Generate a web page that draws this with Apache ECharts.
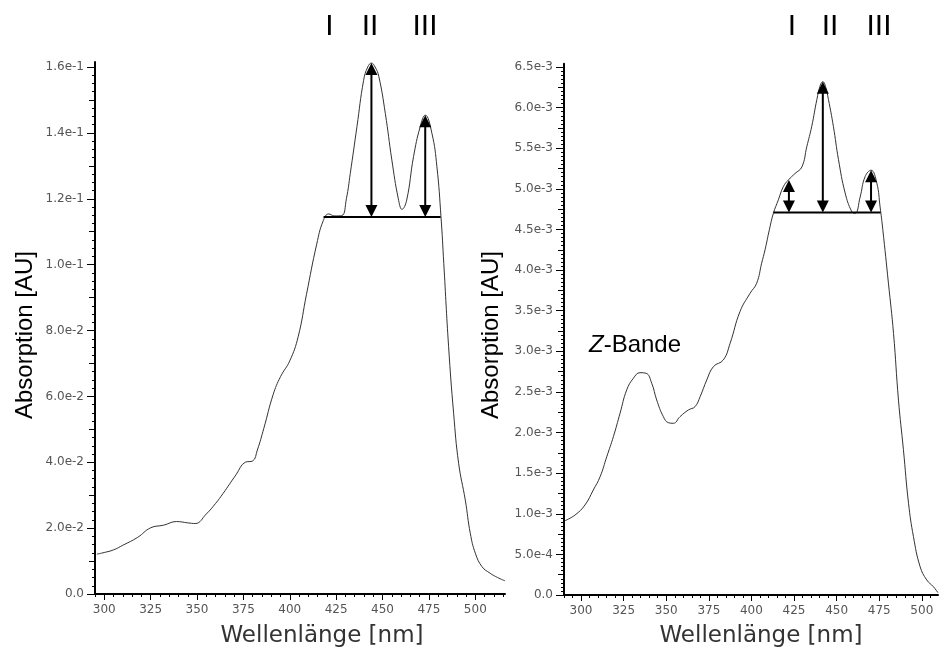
<!DOCTYPE html>
<html>
<head>
<meta charset="utf-8">
<script src="https://cdn.jsdelivr.net/npm/echarts@6/dist/echarts.min.js"></script>
<style>
  html, body { margin: 0; padding: 0; background: #ffffff; }
  #chart { width: 940px; height: 653px; }
</style>
</head>
<body>
<div id="chart"></div>
<script>
// Left spectrum: wavelength [nm] and absorption [AU]
const leftWavelength = [296, 300, 305, 310, 318, 325, 332, 339, 345, 349, 355, 360, 364, 371, 376, 380,
  382.5, 386, 391, 395, 400, 404.5, 409, 414.5, 418, 421, 424, 428, 430.5, 432.6, 436.2, 439.8, 442,
  444, 446, 448, 451.5, 455, 458.5, 460.5, 463, 466.7, 470.3, 473, 476.6, 479.3, 481.5, 483, 485.6,
  488.3, 491, 494.6, 497.3, 500, 503.6, 508, 512, 516];
const leftAbsorption = [0.0121, 0.0126, 0.0134, 0.0148, 0.0172, 0.0201, 0.0209, 0.0220, 0.0216, 0.0214,
  0.0243, 0.0275, 0.0305, 0.0362, 0.0400, 0.0404, 0.0437, 0.0503, 0.0605, 0.0660, 0.0708, 0.0781,
  0.0910, 0.1062, 0.1133, 0.1154, 0.1148, 0.1149, 0.1200, 0.1277, 0.1419, 0.1560, 0.1600, 0.1612,
  0.1600, 0.1571, 0.1459, 0.1318, 0.1200, 0.1168, 0.1196, 0.1328, 0.1419, 0.1454, 0.1399, 0.1297,
  0.1145, 0.1004, 0.0751, 0.0549, 0.0397, 0.0285, 0.0184, 0.0124, 0.0083, 0.0063, 0.0050, 0.0040];

// Right spectrum: wavelength [nm] and absorption [AU]
const rightWavelength = [290.6, 296.5, 302.3, 307.2, 311.2, 315.1, 319, 322.9, 326.8, 330.7, 334.6, 338.2,
  341.5, 344.4, 348.3, 351.2, 354.2, 358.1, 363, 366.9, 369.9, 373.8, 377.7, 383.5, 387.5, 393.3, 399.2,
  403.1, 406, 408, 410.5, 412.9, 415.8, 418.8, 421.7, 425.6, 429.6, 432.5, 435.4, 438.4, 440.5, 441.9,
  443.5, 445.2, 448.1, 451.1, 455, 458.9, 460.9, 463.8, 466.7, 470.2, 473.6, 475.5, 477.1, 480.4, 483.4,
  486.3, 489.2, 492.2, 495.1, 499, 502.9, 506.8, 509.4];
const rightAbsorption = [0.915e-3, 0.985e-3, 1.108e-3, 1.293e-3, 1.457e-3, 1.703e-3, 1.95e-3, 2.238e-3,
  2.525e-3, 2.668e-3, 2.737e-3, 2.730e-3, 2.607e-3, 2.401e-3, 2.196e-3, 2.122e-3, 2.114e-3, 2.196e-3,
  2.278e-3, 2.319e-3, 2.442e-3, 2.648e-3, 2.812e-3, 2.894e-3, 3.10e-3, 3.49e-3, 3.715e-3, 3.839e-3,
  4.085e-3, 4.25e-3, 4.495e-3, 4.70e-3, 4.865e-3, 5.03e-3, 5.11e-3, 5.19e-3, 5.27e-3, 5.52e-3, 5.77e-3,
  6.10e-3, 6.28e-3, 6.32e-3, 6.26e-3, 6.10e-3, 5.77e-3, 5.36e-3, 4.95e-3, 4.72e-3, 4.70e-3, 4.90e-3,
  5.15e-3, 5.23e-3, 5.07e-3, 4.78e-3, 4.50e-3, 3.84e-3, 3.22e-3, 2.40e-3, 1.79e-3, 1.13e-3, 0.718e-3,
  0.349e-3, 0.185e-3, 0.102e-3, 0.03e-3];

// Band heights: [wavelength, band maximum, baseline]
const leftBands = [[444, 0.1612, 0.1145], [473, 0.1454, 0.1145]];
const rightBands = [[422, 5.11e-3, 4.708e-3], [441.9, 6.32e-3, 4.708e-3], [470.2, 5.23e-3, 4.708e-3]];
// Baselines: [start wavelength, end wavelength, absorption]
const leftBaseline = [418.2, 481.3, 0.1145];
const rightBaseline = [412.9, 475.8, 4.708e-3];

// Tick labels
const xTickLabels = [300, 325, 350, 375, 400, 425, 450, 475, 500];
const leftYTickLabels = [0, 0.02, 0.04, 0.06, 0.08, 0.10, 0.12, 0.14, 0.16];
const rightYTickLabels = [0, 0.5e-3, 1.0e-3, 1.5e-3, 2.0e-3, 2.5e-3, 3.0e-3, 3.5e-3, 4.0e-3, 4.5e-3,
  5.0e-3, 5.5e-3, 6.0e-3, 6.5e-3];
const bandNames = ['I', 'II', 'III'];

function steps(start, stop, step) {
  const out = [];
  const n = Math.round((stop - start) / step);
  for (let i = 0; i <= n; i++) out.push(Math.round((start + i * step) * 1e9) / 1e9);
  return out;
}
function zip(xs, ys) { return xs.map((x, i) => [x, ys[i]]); }

const tickFont = { color: '#555', fontFamily: 'DejaVu Sans', fontSize: 12 };
const sciFormat = v => (Math.abs(v) < 1e-12 ? '0.0' : v.toExponential(1));

function makeXAxes(grid, min, max) {
  const base = { type: 'value', gridIndex: grid, min: min, max: max, position: 'bottom',
    splitLine: { show: false } };
  return [
    Object.assign({}, base, {
      axisLine: { show: true, onZero: false, lineStyle: { color: '#000', width: 2 } },
      axisTick: { show: true, customValues: steps(Math.ceil(min / 5) * 5, Math.floor(max / 5) * 5, 5),
        length: 3, lineStyle: { color: '#000', width: 1 } },
      axisLabel: Object.assign({ customValues: xTickLabels, margin: 10 }, tickFont)
    }),
    Object.assign({}, base, {
      axisLine: { show: false },
      axisTick: { show: true, customValues: xTickLabels, length: 6, lineStyle: { color: '#000', width: 1 } },
      axisLabel: { show: false }
    })
  ];
}

function makeYAxes(grid, max, labels, mid, small) {
  const base = { type: 'value', gridIndex: grid, min: 0, max: max, position: 'left',
    splitLine: { show: false } };
  return [
    Object.assign({}, base, {
      axisLine: { show: true, onZero: false, lineStyle: { color: '#000', width: 2 } },
      axisTick: { show: true, customValues: labels, length: 8, lineStyle: { color: '#000', width: 1 } },
      axisLabel: Object.assign({ customValues: labels, formatter: sciFormat, margin: 11 }, tickFont)
    }),
    Object.assign({}, base, {
      axisLine: { show: false },
      axisTick: { show: true, customValues: steps(0, labels[labels.length - 1], mid), length: 6,
        lineStyle: { color: '#000', width: 1 } },
      axisLabel: { show: false }
    }),
    Object.assign({}, base, {
      axisLine: { show: false },
      axisTick: { show: true, customValues: steps(0, labels[labels.length - 1], small), length: 3,
        lineStyle: { color: '#000', width: 1 } },
      axisLabel: { show: false }
    })
  ];
}

// Double-headed arrow from band maximum down to the baseline
function renderArrow(params, api) {
  const x = api.value(0);
  const p1 = api.coord([x, api.value(1)]);
  const p2 = api.coord([x, api.value(2)]);
  const w = 6, h = 12;
  return {
    type: 'group',
    children: [
      { type: 'line', shape: { x1: p1[0], y1: p1[1] + h - 1, x2: p2[0], y2: p2[1] - h + 1 },
        style: { stroke: '#000', lineWidth: 2 } },
      { type: 'polygon', shape: { points: [[p1[0], p1[1]], [p1[0] - w, p1[1] + h], [p1[0] + w, p1[1] + h]] },
        style: { fill: '#000' } },
      { type: 'polygon', shape: { points: [[p2[0], p2[1]], [p2[0] - w, p2[1] - h], [p2[0] + w, p2[1] - h]] },
        style: { fill: '#000' } }
    ]
  };
}

function spectrumSeries(xi, yi, data) {
  return { type: 'line', xAxisIndex: xi, yAxisIndex: yi, data: data, showSymbol: false, smooth: 0.45,
    lineStyle: { color: '#333', width: 1 }, silent: true, z: 2 };
}
function baselineSeries(xi, yi, b) {
  return { type: 'line', xAxisIndex: xi, yAxisIndex: yi, data: [[b[0], b[2]], [b[1], b[2]]],
    showSymbol: false, lineStyle: { color: '#000', width: 2 }, silent: true, z: 3 };
}
function arrowSeries(xi, yi, data) {
  return { type: 'custom', xAxisIndex: xi, yAxisIndex: yi, data: data, renderItem: renderArrow,
    encode: { x: 0, y: [1, 2] }, clip: false, silent: true, z: 4 };
}

const titleFont = { fill: '#000', font: '24px "Liberation Sans"' };
const xTitleFont = { fill: '#333', font: '23px "DejaVu Sans"' };
const romanFont = { fill: '#000', font: '30px "Liberation Sans"' };

function textEl(x, y, text, style, extra) {
  return Object.assign({ type: 'text', x: x, y: y,
    style: Object.assign({ text: text, align: 'center', verticalAlign: 'middle' }, style) }, extra || {});
}

const option = {
  animation: false,
  backgroundColor: '#ffffff',
  grid: [
    { left: 95, top: 62.1, width: 410, height: 531.9 },
    { left: 564, top: 63.8, width: 374, height: 531.2 }
  ],
  xAxis: [].concat(makeXAxes(0, 295, 516), makeXAxes(1, 290, 509.5)),
  yAxis: [].concat(
    makeYAxes(0, 0.1615, leftYTickLabels, 0.01, 0.0025),
    makeYAxes(1, 6.54e-3, rightYTickLabels, 0.25e-3, 0.05e-3)
  ),
  series: [
    spectrumSeries(0, 0, zip(leftWavelength, leftAbsorption)),
    baselineSeries(0, 0, leftBaseline),
    arrowSeries(0, 0, leftBands),
    spectrumSeries(2, 3, zip(rightWavelength, rightAbsorption)),
    baselineSeries(2, 3, rightBaseline),
    arrowSeries(2, 3, rightBands)
  ],
  graphic: [
    textEl(25, 335, 'Absorption [AU]', titleFont, { rotation: Math.PI / 2 }),
    textEl(491, 335, 'Absorption [AU]', titleFont, { rotation: Math.PI / 2 }),
    textEl(322, 636, 'Wellenlänge [nm]', xTitleFont),
    textEl(761, 636, 'Wellenlänge [nm]', xTitleFont),
    textEl(329.5, 27, bandNames[0], romanFont),
    textEl(370, 27, bandNames[1], romanFont),
    textEl(425, 27, bandNames[2], romanFont),
    textEl(792, 27, bandNames[0], romanFont),
    textEl(830, 27, bandNames[1], romanFont),
    textEl(879, 27, bandNames[2], romanFont),
    {
      type: 'text', x: 589, y: 345,
      style: {
        text: '{z|Z}-Bande', align: 'left', verticalAlign: 'middle',
        font: '24px "Liberation Sans"', fill: '#000',
        rich: { z: { fontStyle: 'italic', fontSize: 24, fontFamily: 'Liberation Sans', color: '#000' } }
      }
    }
  ]
};

const chart = echarts.init(document.getElementById('chart'), null, { renderer: 'canvas' });
chart.setOption(option);
</script>
</body>
</html>
